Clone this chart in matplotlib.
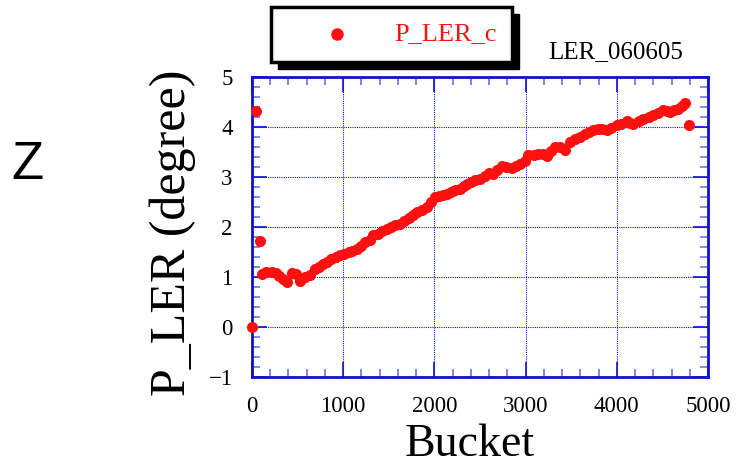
import matplotlib
matplotlib.use('Agg')
import matplotlib.pyplot as plt
from matplotlib.patches import Rectangle
from matplotlib.lines import Line2D
from matplotlib.ticker import MultipleLocator

plt.rcParams['font.family'] = 'Liberation Serif'

# data
bucket = [0, 40, 90, 106, 150, 216, 260, 300, 340, 380, 435, 480, 526, 580, 636,
          690, 740, 780, 819, 870, 920, 965, 1010, 1060, 1100, 1148, 1190, 1240,
          1294, 1330, 1380, 1430, 1477, 1520, 1570, 1623, 1670, 1720, 1769, 1810,
          1860, 1915, 1960, 2007, 2050, 2090, 2135, 2180, 2230, 2281, 2320, 2354,
          2400, 2450, 2500, 2550, 2600, 2646, 2690, 2737, 2790, 2847, 2890, 2939,
          2990, 3030, 3090, 3140, 3190, 3231, 3280, 3322, 3380, 3432, 3487, 3540,
          3596, 3650, 3700, 3742, 3790, 3840, 3889, 3940, 3998, 4050, 4108, 4150,
          4181, 4240, 4291, 4350, 4401, 4450, 4510, 4550, 4583, 4630, 4675, 4720,
          4748, 4795]
p_ler = [0.00, 4.33, 1.73, 1.07, 1.10, 1.11, 1.08, 1.03, 0.97, 0.91, 1.09, 1.06,
         0.93, 1.00, 1.04, 1.17, 1.21, 1.26, 1.31, 1.36, 1.40, 1.44, 1.47, 1.50,
         1.53, 1.57, 1.63, 1.70, 1.74, 1.84, 1.87, 1.93, 1.97, 2.00, 2.04, 2.07,
         2.13, 2.18, 2.24, 2.30, 2.35, 2.41, 2.50, 2.61, 2.62, 2.64, 2.67, 2.70,
         2.74, 2.77, 2.83, 2.87, 2.90, 2.94, 2.97, 3.02, 3.08, 3.07, 3.15, 3.22,
         3.21, 3.19, 3.23, 3.26, 3.33, 3.45, 3.44, 3.47, 3.46, 3.42, 3.52, 3.61,
         3.60, 3.55, 3.71, 3.76, 3.81, 3.86, 3.90, 3.94, 3.96, 3.97, 3.94, 3.99,
         4.04, 4.07, 4.11, 4.09, 4.07, 4.13, 4.17, 4.21, 4.24, 4.29, 4.34, 4.33,
         4.31, 4.35, 4.37, 4.42, 4.49, 4.04]
series_name = 'P_LER_c'
run_name = 'LER_060605'

blue = '#1010d0'
W, H = 737, 465
fig = plt.figure(figsize=(W / 100, H / 100), dpi=100)
ax = fig.add_axes([252 / W, 1 - 377 / H, 456 / W, 300 / H])

ax.scatter(bucket, p_ler, s=64, color='#ff1010', zorder=3, clip_on=False, linewidths=0)

ax.set_xlim(0, 5000)
ax.set_ylim(-1, 5)
ax.xaxis.set_major_locator(MultipleLocator(1000))
ax.xaxis.set_minor_locator(MultipleLocator(200))
ax.yaxis.set_major_locator(MultipleLocator(1))
ax.yaxis.set_minor_locator(MultipleLocator(0.2))
ax.tick_params(which='both', direction='in', top=True, right=True, color=blue,
               labelsize=16.5, pad=14)
ax.tick_params(which='major', length=11, width=1.2)
ax.tick_params(which='minor', length=6, width=1.2, color='#7070e8')
ax.grid(True, which='major', color=blue, linestyle=(0, (1, 1)), linewidth=0.8)
for sp in ax.spines.values():
    sp.set_color(blue)
    sp.set_linewidth(2)

ax.set_xlabel('Bucket', fontsize=33)
ax.xaxis.set_label_coords(0.478, -0.155)
ax.set_ylabel('P_LER (degree)', fontsize=36)
ax.yaxis.set_label_coords(-0.122, 0.48)

fig.text(27 / W, 1 - 165 / H, 'Z', family='Liberation Sans', fontsize=38,
         ha='center', va='center')
fig.text(616 / W, 1 - 52 / H, run_name, fontsize=18, ha='center', va='center')

# legend box with hard shadow
bx0, by0, bw, bh = 271 / W, 1 - 62 / H, 241 / W, 55 / H
fig.add_artist(Rectangle((bx0 + 7 / W, by0 - 7 / H), bw, bh, transform=fig.transFigure,
                         facecolor='black', edgecolor='black'))
fig.add_artist(Rectangle((bx0, by0), bw, bh, transform=fig.transFigure,
                         facecolor='white', edgecolor='black', linewidth=2.5))
fig.add_artist(Line2D([337 / W], [1 - 34 / H], transform=fig.transFigure, marker='o',
                      markersize=8, color='#ff1010', linestyle='none'))
fig.text(445 / W, 1 - 34 / H, series_name, fontsize=19, color='#ff1010',
         ha='center', va='center')

fig.savefig('out.png', dpi=100)
